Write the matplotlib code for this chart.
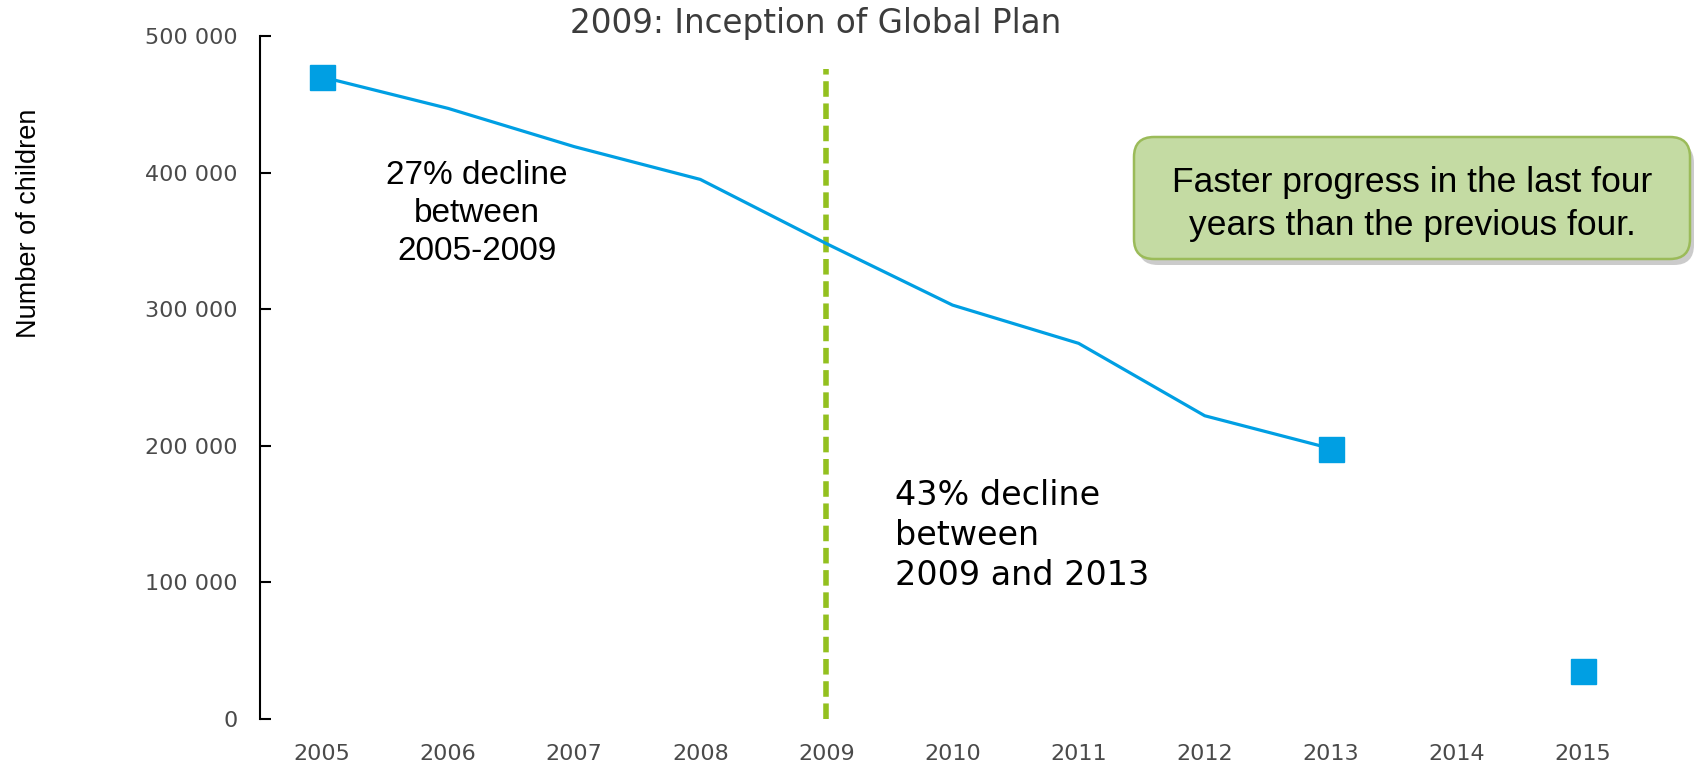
import matplotlib
matplotlib.use("Agg")
import matplotlib.pyplot as plt
from matplotlib import font_manager
from matplotlib.patches import FancyBboxPatch
from matplotlib.transforms import IdentityTransform

# data
years = [2005, 2006, 2007, 2008, 2009, 2010, 2011, 2012, 2013]
children = [470000, 447000, 419000, 395000, 348000, 303000, 275000, 222000, 198000]
target_year = 2015
target_value = 35000
inception_year = 2009
xticks = list(range(2005, 2016))
yticks = [0, 100000, 200000, 300000, 400000, 500000]

blue = "#009FE3"
green = "#93C01F"

installed = {f.name for f in font_manager.fontManager.ttflist}
narrow = "Liberation Sans Narrow" if "Liberation Sans Narrow" in installed else "Liberation Sans"

fig = plt.figure(figsize=(16.94, 7.67), dpi=100)
ax = fig.add_axes([260 / 1694, 48 / 767, 1434 / 1694, 683 / 767])

ax.plot(years, children, "-s", color=blue, lw=2.3, ms=18, markevery=[0, len(years) - 1],
        mec=blue, zorder=3)
ax.plot([target_year], [target_value], "s", color=blue, ms=18, zorder=3)

ax.plot([inception_year, inception_year], [0, 476000], color=green, lw=4,
        dashes=(2.8, 1.2), solid_capstyle="butt", dash_capstyle="butt", zorder=2)

ax.set_xlim(2004.508, 2015.88)
ax.set_ylim(0, 500000)

for s in ["top", "right", "bottom"]:
    ax.spines[s].set_visible(False)
ax.spines["left"].set_linewidth(1.5)
ax.spines["left"].set_color("black")

ax.set_xticks(xticks)
ax.set_xticklabels([str(x) for x in xticks])
ax.set_yticks(yticks)
ax.set_yticklabels(["{:,}".format(v).replace(",", " ") for v in yticks])
ax.tick_params(axis="x", length=0, pad=18, labelsize=16, labelcolor="#4a4a4a")
ax.tick_params(axis="y", direction="in", length=8, width=1.5, pad=16,
               labelsize=16, labelcolor="#4a4a4a")

ax.text(2006.23, 370000, "27% decline\nbetween\n2005-2009", ha="center", va="center",
        fontsize=24, family="Liberation Sans", linespacing=1.3, color="black")
ax.text(2009.544, 176000, "43% decline\nbetween\n2009 and 2013", ha="left", va="top",
        fontsize=24, family="DejaVu Sans", linespacing=1.28, color="black")

fig.text(816 / 1694, 1 - 23 / 767, "2009: Inception of Global Plan", ha="center",
         va="center", fontsize=23.5, color="#3c3c3c")
fig.text(29 / 1694, 1 - 223 / 767, "Number of children", rotation=90, ha="center",
         va="center", fontsize=19.5, family=narrow, color="black")

# callout box (pixel coordinates)
bx, by, bw, bh = 1134, 767 - 259, 556, 122
shadow = FancyBboxPatch((bx + 4, by - 6), bw, bh, boxstyle="round,pad=0,rounding_size=20",
                        transform=IdentityTransform(), fc="#7f7f7f", ec="none", alpha=0.4)
box = FancyBboxPatch((bx, by), bw, bh, boxstyle="round,pad=0,rounding_size=20",
                     transform=IdentityTransform(), fc="#C4DBA3", ec="#9BBB59", lw=1.8)
fig.add_artist(shadow)
fig.add_artist(box)
fig.text(1412 / 1694, 1 - 204 / 767, "Faster progress in the last four\nyears than the previous four.",
         ha="center", va="center", fontsize=25.5, family=narrow, linespacing=1.4, color="black")

fig.savefig("out.png", dpi=100)
